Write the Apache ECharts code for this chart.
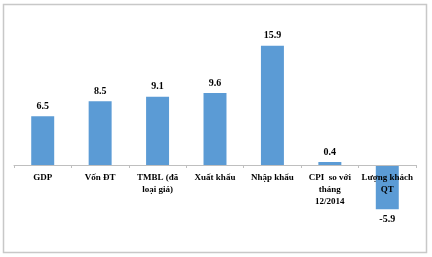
<!DOCTYPE html>
<html>
<head>
<meta charset="utf-8">
<script src="https://cdn.jsdelivr.net/npm/echarts@6/dist/echarts.min.js"></script>
<style>html,body{margin:0;padding:0;background:#fff}#c{width:432px;height:257px}</style>
</head>
<body>
<div id="c"></div>
<script>
var categories = ["GDP", "Vốn ĐT", "TMBL (đã\nloại giá)", "Xuất khẩu", "Nhập khẩu", "CPI  so với\ntháng\n12/2014", "Lượng khách\nQT"];
var values = [6.5, 8.5, 9.1, 9.6, 15.9, 0.4, -5.9];

var chart = echarts.init(document.getElementById('c'), null, {renderer: 'canvas'});
var font = '"Liberation Serif", "Times New Roman", serif';
var yMin = -6, yMax = 18, gridTop = 30, gridBottom = 47, H = 257;
var plotH = H - gridTop - gridBottom;
var zeroOffset = plotH * (0 - yMin) / (yMax - yMin);
chart.setOption({
  animation: false,
  backgroundColor: '#fff',
  graphic: [{
    type: 'rect', shape: {x: 3.5, y: 4.5, width: 423, height: 248},
    style: {fill: 'none', stroke: '#c8c8c8', lineWidth: 1.5}, z: -1
  }],
  grid: {left: 14, right: 16, top: gridTop, bottom: gridBottom},
  xAxis: {
    type: 'category', data: categories, z: 5,
    offset: -zeroOffset,
    axisLine: {onZero: false, lineStyle: {color: '#bfbfbf', width: 1}},
    axisTick: {show: true, length: 3, lineStyle: {color: '#bfbfbf'}},
    axisLabel: {interval: 0, margin: 7, fontFamily: font, fontWeight: 'bold', fontSize: 9, lineHeight: 12, color: '#000'}
  },
  yAxis: {type: 'value', min: yMin, max: yMax, show: false, splitLine: {show: false}},
  series: [{
    type: 'bar',
    barCategoryGap: '60%',
    itemStyle: {color: '#5B9BD5'},
    data: values.map(function (v) {
      return {value: v, label: {position: v < 0 ? 'bottom' : 'top'}};
    }),
    label: {show: true, distance: 5, fontFamily: font, fontWeight: 'bold', fontSize: 10, color: '#000'}
  }]
});
</script>
</body>
</html>
